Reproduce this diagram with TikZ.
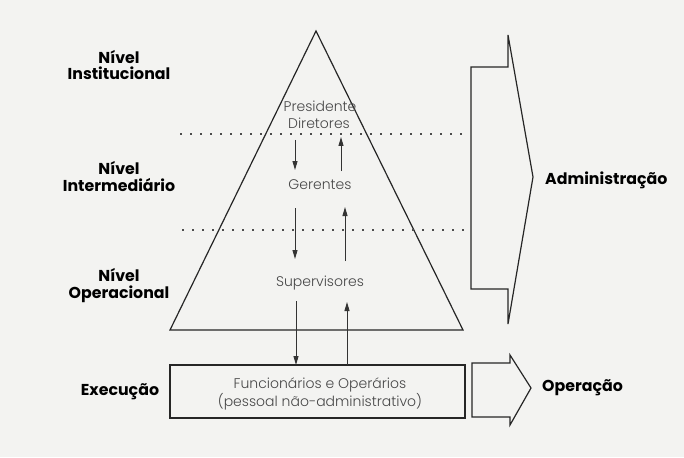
\documentclass[tikz,border=0pt]{standalone}
\usepackage{fontspec}
\setmainfont{Poppins}
\newfontfamily\lightfont{Poppins Light}
\usetikzlibrary{arrows.meta}
\definecolor{bgcol}{RGB}{243,243,241}
\begin{document}
\begin{tikzpicture}[x=1pt,y=-1pt,
  lvl/.style={font=\fontsize{15.8}{16.5}\selectfont\bfseries, align=center, text=black, inner sep=0},
  inner/.style={font=\lightfont\fontsize{14}{15.5}\selectfont, text=black!72, inner sep=0, align=center},
  ln/.style={line width=1.2pt, draw=black!85, line join=miter},
  dots/.style={line width=1.3pt, dash pattern=on 1.5pt off 8.5pt, draw=black!70},
  arr/.style={line width=0.9pt, draw=black!80, -{Triangle[length=9pt,width=5pt]}},
]
\fill[bgcol] (0,0) rectangle (684,457);
\useasboundingbox (0,0) rectangle (684,457);
% pyramid
\coordinate (apex) at (316,31);
\coordinate (bl) at (170,330);
\coordinate (br) at (463,330);
\draw[ln] (apex) -- (br) -- (bl) -- cycle;
% dotted level separators
\coordinate (d1l) at (180,134); \coordinate (d1r) at (466,134);
\coordinate (d2l) at (182,230); \coordinate (d2r) at (466,230);
\draw[dots] (d1l) -- (d1r);
\draw[dots] (d2l) -- (d2r);
% inner texts
\node[inner] (pres) at (320,106) {Presidente};
\node[inner] (dir) at (319,123) {Diretores};
\node[inner] (ger) at (320,185) {Gerentes};
\node[inner] (sup) at (320,283) {Supervisores};
% execution box
\node[ln, draw, minimum width=295pt, minimum height=53pt, inner sep=0] (box) at (317.5,391.5) {};
\node[inner] (func) at (320,394) {Funcionários e Operários\\(pessoal não-administrativo)};
% vertical arrows
\coordinate (a1s) at (295,140); \coordinate (a1e) at (295,170);
\coordinate (b1s) at (341,171); \coordinate (b1e) at (341,137);
\coordinate (a2s) at (295,208); \coordinate (a2e) at (295,259);
\coordinate (b2s) at (345,261); \coordinate (b2e) at (345,207);
\coordinate (a3s) at (296,301); \coordinate (a3e) at (296,365);
\coordinate (b3s) at (347,365); \coordinate (b3e) at (347,302);
\draw[arr] (a1s) -- (a1e);
\draw[arr] (b1s) -- (b1e);
\draw[arr] (a2s) -- (a2e);
\draw[arr] (b2s) -- (b2e);
\draw[arr] (a3s) -- (a3e);
\draw[arr] (b3s) -- (b3e);
% block arrows
\draw[ln] (471,67) -- (508,67) -- (508,35) -- (533,177) -- (508,324) -- (508,289) -- (471,289) -- cycle;
\node[lvl, anchor=west] (adm) at (545,180) {Administração};
\draw[ln] (472,363) -- (510,363) -- (510,355) -- (531,388) -- (510,425) -- (510,417) -- (472,417) -- cycle;
\node[lvl, anchor=west] (op) at (542,388) {Operação};
% level labels
\node[lvl] (ninst) at (119,65) {Nível\\Institucional};
\node[lvl] (ninter) at (119,176.5) {Nível\\Intermediário};
\node[lvl] (noper) at (119,285.5) {Nível\\Operacional};
\node[lvl] (exec) at (120,392) {Execução};
\end{tikzpicture}
\end{document}
